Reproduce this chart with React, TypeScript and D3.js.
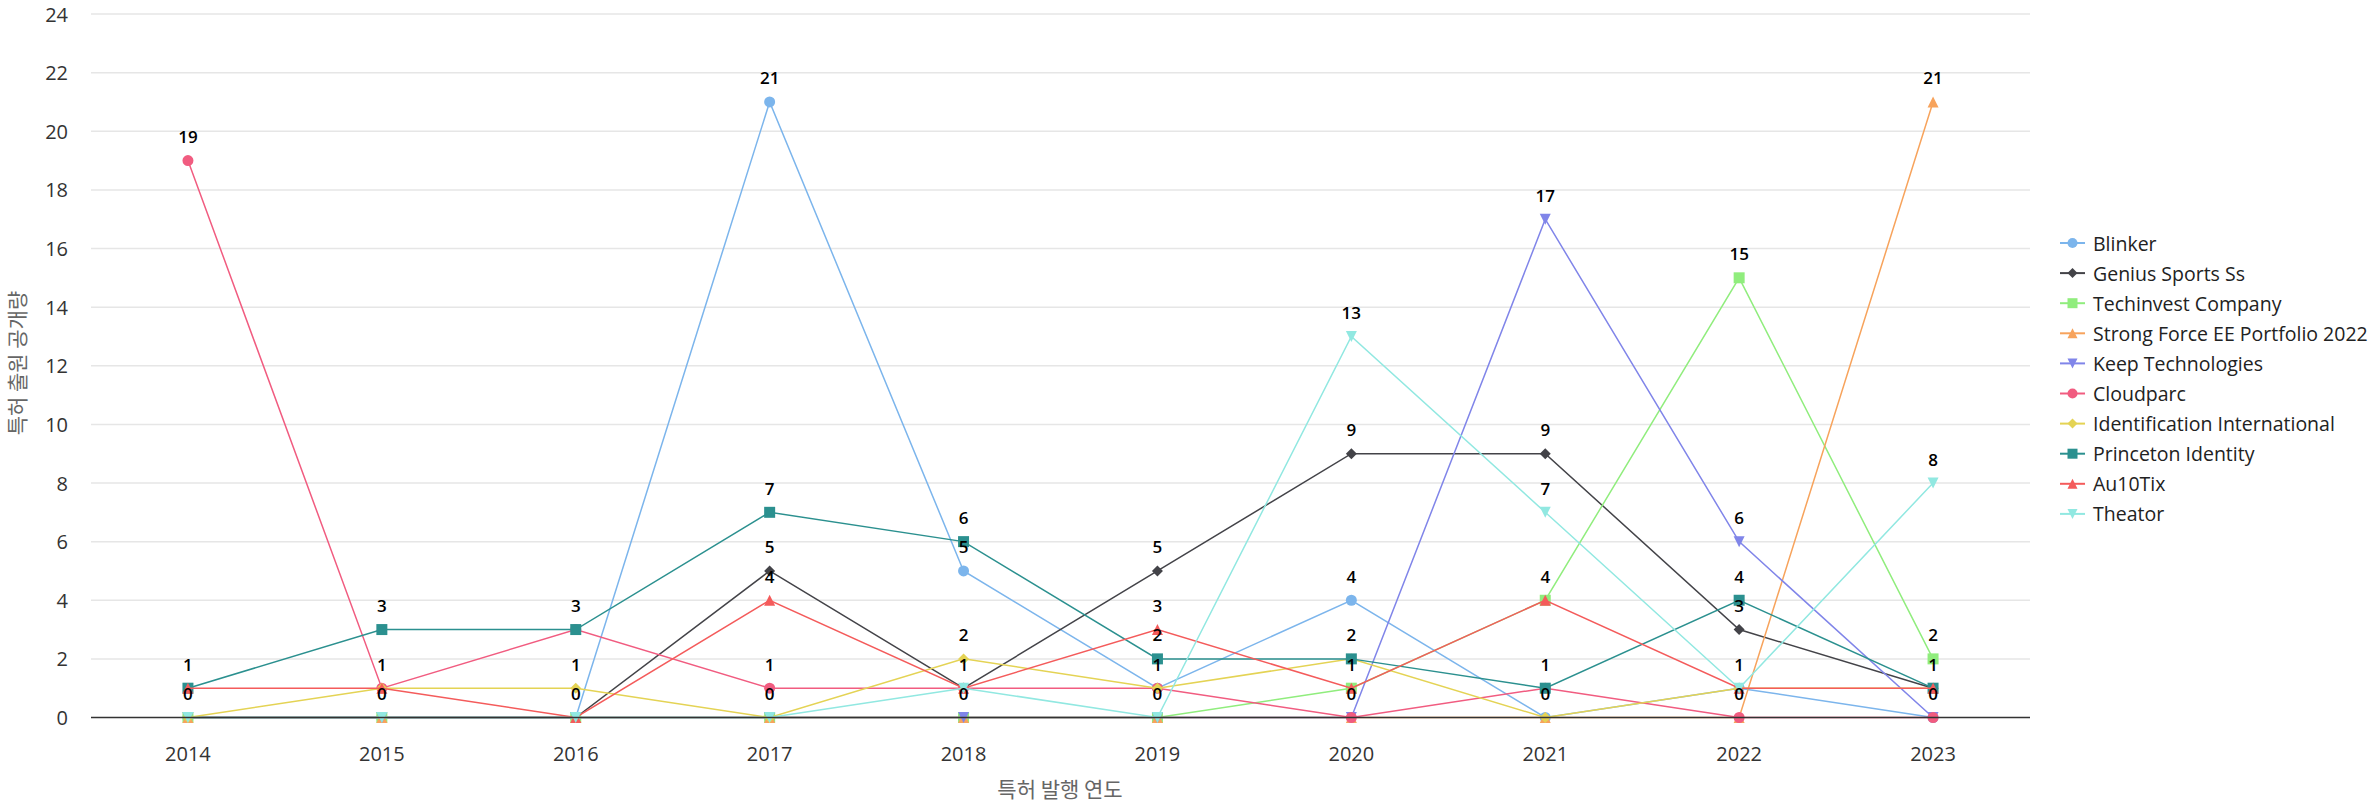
import React from "react";
import * as d3 from "d3";

const years = ["2014", "2015", "2016", "2017", "2018", "2019", "2020", "2021", "2022", "2023"];
const seriesNames = [
  "Blinker",
  "Genius Sports Ss",
  "Techinvest Company",
  "Strong Force EE Portfolio 2022",
  "Keep Technologies",
  "Cloudparc",
  "Identification International",
  "Princeton Identity",
  "Au10Tix",
  "Theator",
];
const blinker = [0, 0, 0, 21, 5, 1, 4, 0, 1, 0];
const genius = [0, 0, 0, 5, 1, 5, 9, 9, 3, 1];
const techinvest = [0, 0, 0, 0, 0, 0, 1, 4, 15, 2];
const strongForce = [0, 0, 0, 0, 0, 0, 0, 0, 0, 21];
const keep = [0, 0, 0, 0, 0, 0, 0, 17, 6, 0];
const cloudparc = [19, 1, 3, 1, 1, 1, 0, 1, 0, 0];
const identification = [0, 1, 1, 0, 2, 1, 2, 0, 1, 1];
const princeton = [1, 3, 3, 7, 6, 2, 2, 1, 4, 1];
const au10tix = [1, 1, 0, 4, 1, 3, 1, 4, 1, 1];
const theator = [0, 0, 0, 0, 1, 0, 13, 7, 1, 8];
const yTicks = [0, 2, 4, 6, 8, 10, 12, 14, 16, 18, 20, 22, 24];

const seriesValues = [blinker, genius, techinvest, strongForce, keep, cloudparc, identification, princeton, au10tix, theator];
const colors = ["#7cb5ec", "#434348", "#90ed7d", "#f7a35c", "#8085e9", "#f15c80", "#e4d354", "#2b908f", "#f45b5b", "#91e8e1"];
const symbols = ["circle", "diamond", "square", "triangle", "triangle-down"];

const W = 2375;
const H = 805;
const left = 91;
const right = 2030;
const top = 14;
const bottom = 717.5;

function symbolPath(type: string, cx: number, cy: number, r: number): string {
  const p = d3.path();
  if (type === "circle") {
    p.arc(cx, cy, r, 0, Math.PI * 2);
  } else if (type === "square") {
    p.rect(cx - r, cy - r, 2 * r, 2 * r);
  } else if (type === "diamond") {
    p.moveTo(cx, cy - r);
    p.lineTo(cx + r, cy);
    p.lineTo(cx, cy + r);
    p.lineTo(cx - r, cy);
    p.closePath();
  } else if (type === "triangle") {
    p.moveTo(cx, cy - r);
    p.lineTo(cx + r, cy + r);
    p.lineTo(cx - r, cy + r);
    p.closePath();
  } else {
    p.moveTo(cx - r, cy - r);
    p.lineTo(cx + r, cy - r);
    p.lineTo(cx, cy + r);
    p.closePath();
  }
  return p.toString();
}

export default function App() {
  const x = d3.scaleBand<string>().domain(years).range([left, right]);
  const xc = (yr: string) => (x(yr) as number) + x.bandwidth() / 2;
  const y = d3.scaleLinear().domain([0, 24]).range([bottom, top]);
  const line = d3
    .line<number>()
    .x((_, i) => xc(years[i]))
    .y((v) => y(v));

  // data labels, hiding duplicates at the same spot
  const seen = new Set<string>();
  const labels: { x: number; y: number; t: string; k: string }[] = [];
  seriesValues.forEach((vals, si) => {
    vals.forEach((v, i) => {
      const key = years[i] + "_" + v;
      if (seen.has(key)) return;
      seen.add(key);
      labels.push({ x: xc(years[i]), y: y(v) - 24, t: String(v), k: key + "_" + si });
    });
  });

  const legendX = 2060;
  const legendY0 = 243;
  const legendDy = 30.1;

  return (
    <svg
      width={W}
      height={H}
      style={{ position: "absolute", left: 0, top: 0, background: "#fff" }}
      fontFamily="'Open Sans', sans-serif"
    >
      {/* grid */}
      {yTicks.map((t) => (
        <g key={t}>
          {t !== 0 && (
            <line x1={left} x2={right} y1={y(t)} y2={y(t)} stroke="#e6e6e6" strokeWidth={1.5} />
          )}
          <text x={68} y={y(t)} textAnchor="end" dominantBaseline="central" fontSize={20} fill="#333">
            {t}
          </text>
        </g>
      ))}
      {years.map((yr) => (
        <text key={yr} x={xc(yr)} y={753} textAnchor="middle" dominantBaseline="central" fontSize={20} fill="#333">
          {yr}
        </text>
      ))}
      <text
        transform={`translate(16,363) rotate(-90)`}
        textAnchor="middle"
        dominantBaseline="central"
        fontSize={21}
        fill="#666"
        fontFamily="'Noto Sans CJK KR', sans-serif"
      >
        특허 출원 공개량
      </text>
      <text
        x={1060}
        y={788}
        textAnchor="middle"
        dominantBaseline="central"
        fontSize={21}
        fill="#666"
        fontFamily="'Noto Sans CJK KR', sans-serif"
      >
        특허 발행 연도
      </text>

      {/* series */}
      {seriesValues.map((vals, si) => (
        <g key={seriesNames[si]}>
          <path d={line(vals) || ""} fill="none" stroke={colors[si]} strokeWidth={1.5} />
          {vals.map((v, i) => (
            <path key={i} d={symbolPath(symbols[si % 5], xc(years[i]), y(v), 5.5)} fill={colors[si]} />
          ))}
        </g>
      ))}
      <line x1={left} x2={right} y1={bottom} y2={bottom} stroke="#333" strokeWidth={1.5} />

      {/* labels */}
      {labels.map((l) => (
        <text
          key={l.k}
          x={l.x}
          y={l.y}
          textAnchor="middle"
          dominantBaseline="central"
          fontSize={17}
          fontWeight={600}
          fill="#000"
        >
          {l.t}
        </text>
      ))}

      {/* legend */}
      {seriesNames.map((n, si) => {
        const ly = legendY0 + si * legendDy;
        return (
          <g key={n}>
            <line x1={legendX} x2={legendX + 25} y1={ly} y2={ly} stroke={colors[si]} strokeWidth={2} />
            <path d={symbolPath(symbols[si % 5], legendX + 12.5, ly, 5)} fill={colors[si]} />
            <text x={2093} y={ly} dominantBaseline="central" fontSize={19.5} fontWeight={500} fill="#222">
              {n}
            </text>
          </g>
        );
      })}
    </svg>
  );
}
